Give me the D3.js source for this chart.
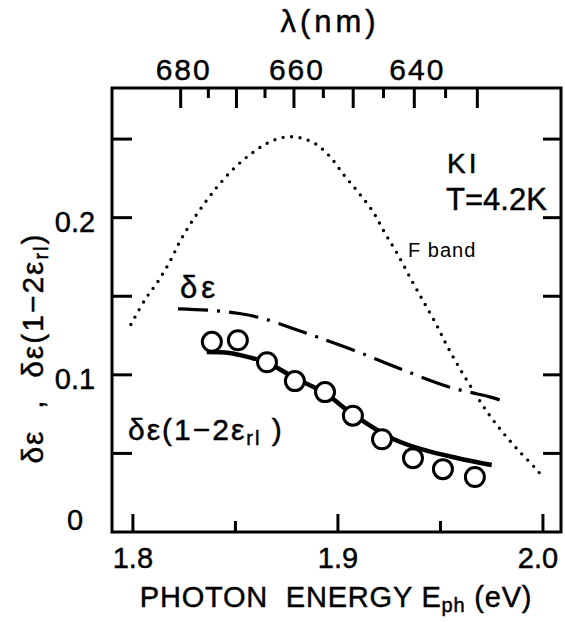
<!DOCTYPE html>
<html>
<head>
<meta charset="utf-8">
<script src="https://cdn.jsdelivr.net/npm/d3@7"></script>
<style>
  body { margin: 0; background: #fff; }
  svg text { font-family: 'Liberation Sans', Arial, sans-serif; fill: #000; stroke: #000; stroke-width: 0.45px; }
</style>
</head>
<body>
<div id="chart"></div>
<script>
// F band absorption (dotted), [energy eV, value]
const fBand = [
  [1.799, 0.132], [1.806, 0.148], [1.812, 0.159], [1.818, 0.172], [1.823, 0.185],
  [1.829, 0.198], [1.836, 0.211], [1.842, 0.221], [1.849, 0.231], [1.857, 0.240],
  [1.865, 0.247], [1.873, 0.251], [1.881, 0.251], [1.889, 0.247], [1.896, 0.239],
  [1.903, 0.227], [1.910, 0.216], [1.917, 0.204], [1.923, 0.190], [1.929, 0.177],
  [1.936, 0.160], [1.942, 0.146], [1.948, 0.132], [1.953, 0.119], [1.959, 0.105],
  [1.966, 0.090], [1.973, 0.076], [1.980, 0.064], [1.988, 0.052], [1.996, 0.041],
  [2.000, 0.035]
];

// delta epsilon (dash-dot)
const deltaEps = [
  [1.822, 0.142], [1.838, 0.141], [1.852, 0.139], [1.863, 0.136], [1.877, 0.130],
  [1.890, 0.124], [1.909, 0.115], [1.930, 0.104], [1.955, 0.092], [1.974, 0.086],
  [1.979, 0.084]
];

// delta epsilon (1 - 2 eps_rl), calculated (solid)
const deltaEpsCorr = [
  [1.836, 0.1145], [1.847, 0.1139], [1.858, 0.1107], [1.865, 0.1081], [1.879, 0.098],
  [1.894, 0.088], [1.907, 0.0751], [1.927, 0.0592], [1.942, 0.0522], [1.958, 0.0471],
  [1.975, 0.0426]
];

// measured points (open circles)
const measE = [1.8385, 1.8512, 1.8654, 1.879, 1.8937, 1.9073, 1.9215, 1.9366, 1.9512, 1.9668];
const measV = [0.121, 0.122, 0.108, 0.096, 0.089, 0.074, 0.059, 0.047, 0.040, 0.035];

const xTicks = [1.8, 1.85, 1.9, 1.95, 2.0];
const xLabels = [1.8, 1.9, 2.0];
const yTicks = [0.05, 0.1, 0.15, 0.2, 0.25];
const yLabels = [0, 0.1, 0.2];
const lamTicks = [680, 675, 670, 665, 660, 655, 650, 645, 640, 635, 630];
const lamLabels = [680, 660, 640];

const width = 565, height = 622;
const margin = { top: 88, right: 4, bottom: 90, left: 112 };

const svg = d3.select('#chart').append('svg')
  .attr('width', width)
  .attr('height', height);

const x = d3.scaleLinear()
  .domain([1.7898, 2.0088])
  .range([margin.left, width - margin.right]);

const y = d3.scaleLinear()
  .domain([0, 0.2825])
  .range([height - margin.bottom, margin.top]);

const toEnergy = lam => 1239.84 / lam;

// frame
svg.append('rect')
  .attr('x', x.range()[0]).attr('y', y.range()[1])
  .attr('width', x.range()[1] - x.range()[0])
  .attr('height', y.range()[0] - y.range()[1])
  .attr('fill', 'none').attr('stroke', '#000').attr('stroke-width', 3);

// bottom ticks (inward)
svg.append('g').selectAll('line')
  .data(xTicks).join('line')
  .attr('x1', d => x(d)).attr('x2', d => x(d))
  .attr('y1', y(0)).attr('y2', (d, i) => y(0) - (i % 2 ? 11 : 18))
  .attr('stroke', '#000').attr('stroke-width', 3);

svg.append('g').selectAll('text')
  .data(xLabels).join('text')
  .attr('x', d => x(d) - (d === 2.0 ? 5 : 0))
  .attr('y', y(0) + 36)
  .attr('text-anchor', 'middle')
  .attr('font-size', 29)
  .text(d => d.toFixed(1));

// top wavelength ticks (inward)
svg.append('g').selectAll('line')
  .data(lamTicks).join('line')
  .attr('x1', d => x(toEnergy(d))).attr('x2', d => x(toEnergy(d)))
  .attr('y1', y.range()[1]).attr('y2', d => y.range()[1] + (d % 10 === 0 ? 20 : 10))
  .attr('stroke', '#000').attr('stroke-width', 3);

svg.append('g').selectAll('text')
  .data(lamLabels).join('text')
  .attr('x', d => x(toEnergy(d)) + 3)
  .attr('y', 80)
  .attr('text-anchor', 'middle')
  .attr('font-size', 30)
  .attr('letter-spacing', 2)
  .text(d => d);

svg.append('text')
  .attr('x', 330).attr('y', 32)
  .attr('text-anchor', 'middle')
  .attr('font-size', 31)
  .attr('letter-spacing', 4)
  .text('λ(nm)');

// left and right ticks (inward)
svg.append('g').selectAll('line')
  .data(yTicks).join('line')
  .attr('x1', x.range()[0]).attr('x2', x.range()[0] + 20)
  .attr('y1', d => y(d)).attr('y2', d => y(d))
  .attr('stroke', '#000').attr('stroke-width', 3);

svg.append('g').selectAll('line')
  .data(yTicks).join('line')
  .attr('x1', x.range()[1]).attr('x2', x.range()[1] - 18)
  .attr('y1', d => y(d)).attr('y2', d => y(d))
  .attr('stroke', '#000').attr('stroke-width', 3);

svg.append('g').selectAll('text')
  .data(yLabels).join('text')
  .attr('x', 75)
  .attr('y', d => d === 0 ? y(0) - 2 : y(d) + 14)
  .attr('text-anchor', 'middle')
  .attr('font-size', 29)
  .text(d => d === 0 ? '0' : d.toFixed(1));

// axis titles
const xt = svg.append('text')
  .attr('x', 336).attr('y', 607)
  .attr('text-anchor', 'middle')
  .attr('font-size', 29)
  .attr('letter-spacing', 0.8);
xt.append('tspan').text('PHOTON\u00a0 ENERGY E');
xt.append('tspan').attr('font-size', 20).attr('dy', 5).text('ph');
xt.append('tspan').attr('dy', -5).text(' (eV)');

const yt = svg.append('text')
  .attr('transform', 'translate(43,348) rotate(-90)')
  .attr('text-anchor', 'middle')
  .attr('font-size', 30)
  .attr('letter-spacing', 2);
yt.append('tspan').text('δε\u00a0 ,\u00a0 δε(1−2ε');
yt.append('tspan').attr('font-size', 20).attr('dy', 5).text('rl');
yt.append('tspan').attr('dy', -5).text(')');

// curves
const line = d3.line()
  .x(d => x(d[0]))
  .y(d => y(d[1]))
  .curve(d3.curveCatmullRom);

svg.append('path')
  .datum(fBand)
  .attr('fill', 'none').attr('stroke', '#000')
  .attr('stroke-width', 3.4)
  .attr('stroke-linecap', 'round')
  .attr('stroke-dasharray', '0 8.5')
  .attr('d', line);

svg.append('path')
  .datum(deltaEps)
  .attr('fill', 'none').attr('stroke', '#000')
  .attr('stroke-width', 3.2)
  .attr('stroke-dasharray', '30 9 3 9')
  .attr('d', line);

svg.append('path')
  .datum(deltaEpsCorr)
  .attr('fill', 'none').attr('stroke', '#000')
  .attr('stroke-width', 4.5)
  .attr('d', line);

svg.append('g').selectAll('circle')
  .data(measE).join('circle')
  .attr('cx', d => x(d))
  .attr('cy', (d, i) => y(measV[i]))
  .attr('r', 9.5)
  .attr('fill', '#fff')
  .attr('stroke', '#000')
  .attr('stroke-width', 3);

// annotations
svg.append('text')
  .attr('x', 180).attr('y', 298)
  .attr('font-size', 31)
  .attr('letter-spacing', 4)
  .text('δε');

const lab = svg.append('text')
  .attr('x', 128).attr('y', 440)
  .attr('font-size', 30)
  .attr('letter-spacing', 2);
lab.append('tspan').text('δε(1−2ε');
lab.append('tspan').attr('font-size', 20).attr('dy', 5).text('rl');
lab.append('tspan').attr('dy', -5).text(' )');

svg.append('text')
  .attr('x', 447).attr('y', 173)
  .attr('font-size', 28)
  .attr('letter-spacing', 3)
  .text('KI');

svg.append('text')
  .attr('x', 446).attr('y', 210)
  .attr('font-size', 31)
  .text('T=4.2K');

svg.append('text')
  .attr('x', 408).attr('y', 257)
  .attr('font-size', 20)
  .attr('letter-spacing', 1)
  .style('stroke-width', 0)
  .text('F band');
</script>
</body>
</html>
